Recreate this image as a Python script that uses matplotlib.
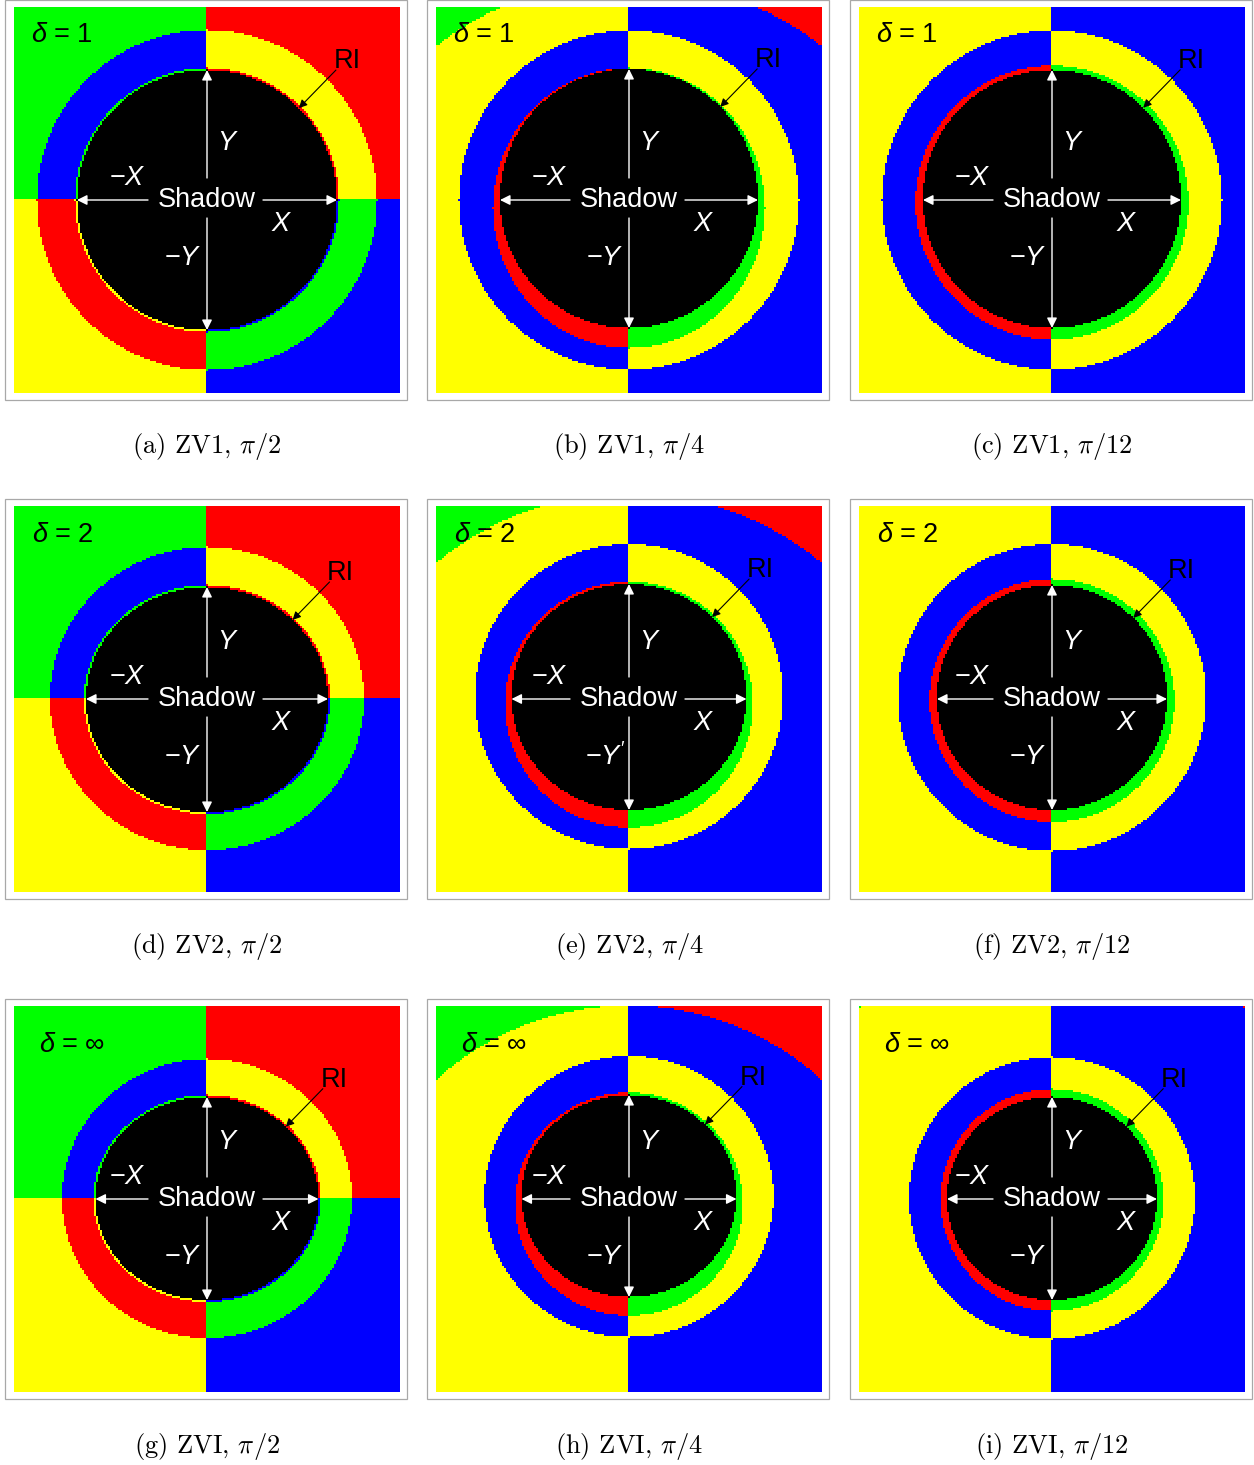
import numpy as np
import matplotlib
matplotlib.use('Agg')
import matplotlib.pyplot as plt
from matplotlib.patches import Rectangle

plt.rcParams['mathtext.fontset'] = 'custom'
plt.rcParams['mathtext.rm'] = 'Liberation Sans'
plt.rcParams['mathtext.it'] = 'Liberation Sans:italic'
plt.rcParams['mathtext.bf'] = 'Liberation Sans:bold'

# rows: models (delta = 1, 2, inf), columns: inclination
models = ['ZV1', 'ZV2', 'ZVI']
delta_labels = ['1', '2', '\u221e']
angles = [r'\pi/2', r'\pi/4', r'\pi/12']
letters = 'abcdefghi'

# geometry in pixels of a 386 px panel, relative to the panel centre (y down)
shadow_rx = [[130, 129, 129], [121, 117.5, 115], [111.5, 107.5, 105]]
shadow_ry = [[130, 129.5, 129], [112.5, 113, 112.5], [101.5, 101, 101.5]]
shadow_dy = [[0, -1.5, -1], [0.5, -2, -1.5], [-0.5, -3, -0.5]]
cres_rx = [[132, 136, 136.5], [123, 124, 122.5], [113.5, 114, 111.5]]
cres_ry = [[132, 140, 137], [114.5, 123, 121.5], [103.5, 111.5, 111]]
cres_dy = [[0, 8, 2.5], [0.5, 5.5, 1.5], [-0.5, 5, 1]]
ring_rx = [[170, 170, 170], [157, 154, 154], [145, 144.5, 143]]
ring_ry = [[170, 169.5, 169.5], [151.5, 152.5, 153.5], [139.5, 140.5, 141]]
ring_dy = [[0, 0, 0], [-0.5, -2.5, -1.5], [-0.5, -2.5, -1]]
patch_dy = [[0, 94, 0], [0, 97, 0], [0, 94, 97]]
patch_r = [[np.inf, 314, np.inf], [np.inf, 302.5, np.inf], [np.inf, 287.5, 346]]

# quadrant colours (UL, UR, LL, LR) of each layer, per inclination column
outer_quads = ['GRYB', 'YBYB', 'YBYB']
ring_quads = ['BYRG', 'BYBY', 'BYBY']
cres_quads = ['GRYB', 'RGRG', 'RGRG']
patch_quads = ['GRYB', 'GRGR', 'GRGR']
palette = {'R': (1, 0, 0), 'G': (0, 1, 0), 'B': (0, 0, 1), 'Y': (1, 1, 0), 'K': (0, 0, 0)}

delta_xy = [(-145, -165), (-144, -164), (-135, -154)]
img_left = [14, 436, 859]
img_top = [7, 506, 1006]
caption_y = [446, 946, 1446]
W, H = 1254, 1465
S = 386
N = 193
SANS = ['Liberation Sans', 'DejaVu Sans']

fig = plt.figure(figsize=(W / 100, H / 100), dpi=100)

cc = (np.arange(N) + 0.5) * S / N - S / 2
X, Y = np.meshgrid(cc, cc)
quad = (Y >= 0) * 2 + (X >= 0)


def ellipse(rx, ry, dy):
    return (X / rx) ** 2 + ((Y - dy) / ry) ** 2 <= 1


def paint(rgb, mask, quads):
    for q in range(4):
        rgb[mask & (quad == q)] = palette[quads[q]]


white_arrow = dict(arrowstyle='-|>', color='white', lw=1.0, mutation_scale=15,
                   shrinkA=0, shrinkB=0)
black_arrow = dict(arrowstyle='-|>', color='black', lw=0.8, mutation_scale=12,
                   shrinkA=0, shrinkB=0)

for r in range(3):
    for c in range(3):
        rgb = np.zeros((N, N, 3))
        patch_mask = X ** 2 + (Y - patch_dy[r][c]) ** 2 > patch_r[r][c] ** 2
        paint(rgb, ~patch_mask, outer_quads[c])
        paint(rgb, patch_mask, patch_quads[c])
        ring = ellipse(ring_rx[r][c], ring_ry[r][c], ring_dy[r][c])
        paint(rgb, ring, ring_quads[c])
        cres = ellipse(cres_rx[r][c], cres_ry[r][c], cres_dy[r][c])
        paint(rgb, cres, cres_quads[c])
        rgb[ellipse(shadow_rx[r][c], shadow_ry[r][c], shadow_dy[r][c])] = palette['K']

        L, T = img_left[c], img_top[r]
        ax = fig.add_axes([L / W, 1 - (T + S) / H, S / W, S / H])
        ax.imshow(rgb, extent=(-S / 2, S / 2, S / 2, -S / 2), interpolation='nearest')
        ax.set_xlim(-S / 2, S / 2)
        ax.set_ylim(S / 2, -S / 2)
        ax.axis('off')

        fig.add_artist(Rectangle(((L - 9) / W, 1 - (T + S + 7) / H), 402 / W, 400 / H,
                                 transform=fig.transFigure, fill=False,
                                 ec='#a8a8a8', lw=0.9))

        rx, ry, dy = shadow_rx[r][c], shadow_ry[r][c], shadow_dy[r][c]
        ax.annotate('', xy=(0, dy - ry), xytext=(0, -22), arrowprops=white_arrow)
        ax.annotate('', xy=(0, dy + ry), xytext=(0, 18), arrowprops=white_arrow)
        ax.annotate('', xy=(-rx, 0), xytext=(-59, 0), arrowprops=white_arrow)
        ax.annotate('', xy=(rx, 0), xytext=(56, 0), arrowprops=white_arrow)

        fs = 19.5
        ax.text(0, 0, 'Shadow', color='white', size=fs, ha='center', va='center',
                family=SANS)
        ax.text(21, -57, '$Y$', color='white', size=fs, ha='center', va='center')
        ax.text(-80, -22, '$-X$', color='white', size=fs, ha='center', va='center')
        ax.text(75, 24, '$X$', color='white', size=fs, ha='center', va='center')
        ylab = "$-Y'$" if (r, c) == (1, 1) else '$-Y$'
        ax.text(-24, 58, ylab, color='white', size=fs, ha='center', va='center')

        dx_, dy_ = delta_xy[r]
        ax.text(dx_, dy_, r'$\delta$ = %s' % delta_labels[r], color='black', size=fs,
                ha='center', va='center', family=SANS)

        tip = (rx / np.sqrt(2), dy - ry / np.sqrt(2))
        ax.annotate('', xy=tip, xytext=(tip[0] + 37, tip[1] - 38), arrowprops=black_arrow)
        ax.text(tip[0] + 48, tip[1] - 47, 'RI', color='black', size=fs,
                ha='center', va='center', family=SANS)

        cap = r'(%s) %s, $%s$' % (letters[3 * r + c], models[r], angles[c])
        fig.text((L + S / 2) / W, 1 - caption_y[r] / H, cap, family='cmr10',
                 math_fontfamily='cm', size=19, ha='center', va='center')

fig.savefig('out.png', dpi=100)
